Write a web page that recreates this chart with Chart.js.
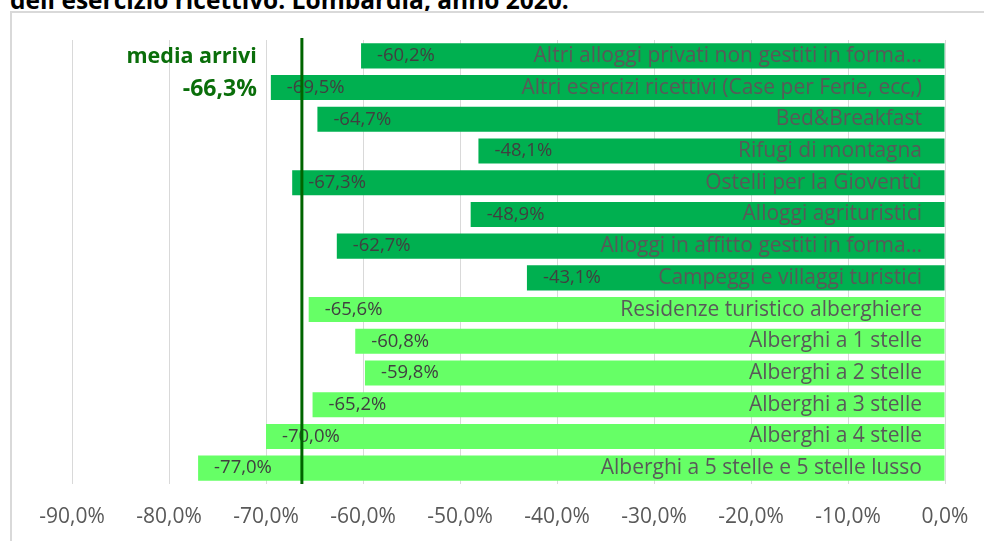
<!DOCTYPE html>
<html>
<head>
<meta charset="utf-8">
<script src="https://cdn.jsdelivr.net/npm/chart.js@4/dist/chart.umd.min.js"></script>
<style>
  body { margin: 0; background: #fff; width: 984px; height: 541px; overflow: hidden; position: relative; font-family: "Open Sans", sans-serif; }
  .titolo { position: absolute; left: 10px; top: -12px; font-size: 24.5px; line-height: 24px; font-weight: bold; color: #000; white-space: nowrap; }
  .cornice { position: absolute; left: 10px; top: 11px; width: 1100px; height: 700px; border: 2px solid #D9D9D9; box-sizing: border-box; }
  .grafico { position: absolute; left: 0; top: 0; width: 984px; height: 541px; }
</style>
</head>
<body>
<div class="titolo">dell'esercizio ricettivo. Lombardia, anno 2020.</div>
<div class="cornice"></div>
<div class="grafico"><canvas id="graficoArrivi" width="984" height="541"></canvas></div>
<script>
var categorie = [
    "Altri alloggi privati non gestiti in forma…",
    "Altri esercizi ricettivi (Case per Ferie, ecc,)",
    "Bed&Breakfast",
    "Rifugi di montagna",
    "Ostelli per la Gioventù",
    "Alloggi agrituristici",
    "Alloggi in affitto gestiti in forma…",
    "Campeggi e villaggi turistici",
    "Residenze turistico alberghiere",
    "Alberghi a 1 stelle",
    "Alberghi a 2 stelle",
    "Alberghi a 3 stelle",
    "Alberghi a 4 stelle",
    "Alberghi a 5 stelle e 5 stelle lusso"
];
var variazioni = [-60.2, -69.5, -64.7, -48.1, -67.3, -48.9, -62.7, -43.1, -65.6, -60.8, -59.8, -65.2, -70.0, -77.0];
// extralberghieri in verde scuro, alberghieri in verde chiaro
var colori = ["#00B050", "#00B050", "#00B050", "#00B050", "#00B050", "#00B050", "#00B050", "#00B050",
              "#66FF66", "#66FF66", "#66FF66", "#66FF66", "#66FF66", "#66FF66"];
var mediaArrivi = -66.3;
var tickMin = -90, tickMax = 0, tickPasso = 10;

function formatta(v) {
    return v.toFixed(1).replace('.', ',') + '%';
}

// valori a sinistra della barra, nomi delle categorie allineati a destra dentro la barra
var etichette = {
    id: 'etichette',
    afterDatasetsDraw: function (chart) {
        var ctx = chart.ctx;
        var meta = chart.getDatasetMeta(0);
        var scalaY = chart.scales.y;
        var destra = chart.chartArea.right - 23;
        ctx.save();
        ctx.textBaseline = 'middle';
        ctx.font = '18.5px "Open Sans"';
        ctx.fillStyle = '#404040';
        ctx.textAlign = 'left';
        meta.data.forEach(function (barra, i) {
            ctx.fillText(formatta(variazioni[i]), barra.x + 16, barra.y);
        });
        ctx.font = '21px "Open Sans"';
        ctx.fillStyle = '#595959';
        ctx.textAlign = 'right';
        categorie.forEach(function (nome, i) {
            ctx.fillText(nome, destra, scalaY.getPixelForTick(i));
        });
        ctx.restore();
    }
};

var lineaMedia = {
    id: 'lineaMedia',
    afterDraw: function (chart) {
        var ctx = chart.ctx;
        var area = chart.chartArea;
        var x = chart.scales.x.getPixelForValue(mediaArrivi);
        ctx.save();
        ctx.strokeStyle = '#006400';
        ctx.lineWidth = 3;
        ctx.beginPath();
        ctx.moveTo(x, area.top - 2);
        ctx.lineTo(x, area.bottom);
        ctx.stroke();
        ctx.fillStyle = '#0A6E0A';
        ctx.textAlign = 'right';
        ctx.textBaseline = 'middle';
        ctx.font = 'bold 21.5px "Open Sans"';
        ctx.fillText('media arrivi', x - 45, area.top + 17);
        ctx.font = 'bold 23px "Open Sans"';
        ctx.fillText(formatta(mediaArrivi), x - 45, area.top + 49);
        ctx.restore();
    }
};

var ctx = document.getElementById('graficoArrivi').getContext('2d');
var grafico = new Chart(ctx, {
    type: 'bar',
    data: {
        labels: categorie,
        datasets: [{
            label: 'Variazione arrivi',
            data: variazioni,
            backgroundColor: colori,
            borderWidth: 0,
            categoryPercentage: 1,
            barPercentage: 0.79
        }]
    },
    options: {
        indexAxis: 'y',
        responsive: false,
        animation: false,
        layout: { padding: { left: 72, top: 40, right: 39, bottom: 0 } },
        plugins: {
            legend: { display: false },
            tooltip: { enabled: false }
        },
        scales: {
            x: {
                min: tickMin,
                max: tickMax,
                grid: { color: '#D9D9D9', lineWidth: 1, drawTicks: false },
                border: { display: false },
                ticks: {
                    stepSize: tickPasso,
                    color: '#595959',
                    font: { family: 'Open Sans', size: 21 },
                    padding: 20,
                    maxRotation: 0,
                    callback: function (v) { return formatta(v); }
                },
                afterFit: function (scale) {
                    scale.height = 57;
                    scale.paddingLeft = 0;
                    scale.paddingRight = 0;
                }
            },
            y: {
                display: false
            }
        }
    },
    plugins: [etichette, lineaMedia]
});
</script>
</body>
</html>
